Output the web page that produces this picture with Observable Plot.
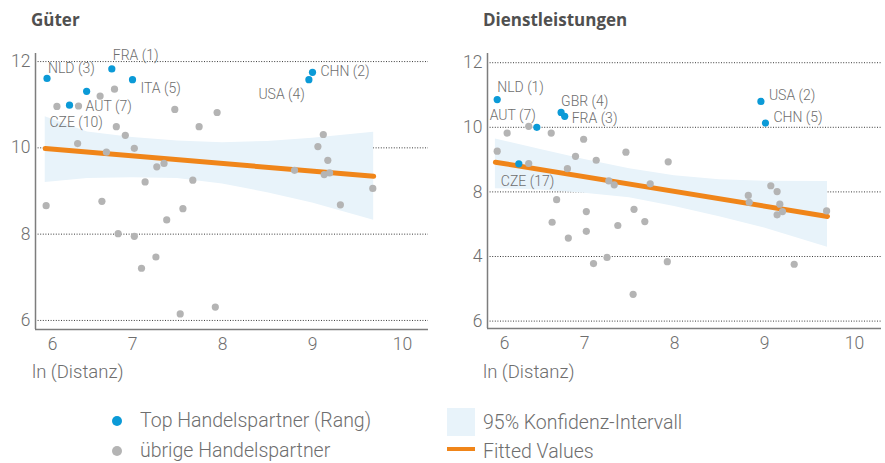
<!DOCTYPE html>
<html><head><meta charset="utf-8">
<script src="https://cdn.jsdelivr.net/npm/d3@7"></script>
<script src="https://cdn.jsdelivr.net/npm/@observablehq/plot@0.6"></script>
<style>
body{margin:0;background:#fff;}
#wrap{position:relative;width:885px;height:463px;overflow:hidden;font-family:Roboto,"Liberation Sans",sans-serif;font-weight:300;color:#6e6e6e;}
.abs{position:absolute;white-space:nowrap;}
.title{font-family:"Open Sans","Liberation Sans",Arial,sans-serif;font-weight:bold;font-size:17px;color:#505050;line-height:20px;}
.axl{font-size:18.5px;line-height:22px;}
.leg{font-size:19.5px;line-height:24px;}
svg text{font-weight:300;}
</style></head>
<body>
<div id="wrap">
  <div class="abs" id="pl" style="left:0;top:0"></div>
  <div class="abs" id="pr" style="left:440px;top:0"></div>
  <div class="abs title" style="left:31px;top:10px">Güter</div>
  <div class="abs title" style="left:483px;top:10px">Dienstleistungen</div>
  <div class="abs axl" style="left:32px;top:361px">ln (Distanz)</div>
  <div class="abs axl" style="left:483px;top:361px">ln (Distanz)</div>
  <div class="abs" style="left:112px;top:416px;width:10px;height:10px;border-radius:50%;background:#0b9ad7"></div>
  <div class="abs leg" style="left:140px;top:409px">Top Handelspartner (Rang)</div>
  <div class="abs" style="left:112px;top:446px;width:10px;height:10px;border-radius:50%;background:#b4b4b4"></div>
  <div class="abs leg" style="left:140px;top:439px">übrige Handelspartner</div>
  <div class="abs" style="left:447px;top:408px;width:28px;height:28px;background:#e8f3fa"></div>
  <div class="abs leg" style="left:483px;top:411px">95% Konfidenz-Intervall</div>
  <div class="abs" style="left:447px;top:447px;width:28px;height:4px;background:#f08519"></div>
  <div class="abs leg" style="left:483px;top:440px">Fitted Values</div>
</div>
<script>
// ---------- Data: Güter ----------
const gTopCode = ["NLD","AUT","CZE","FRA","ITA","USA","CHN"];
const gTopRank = [3,7,10,1,5,4,2];
const gTopX = [6.05,6.49,6.30,6.77,7.00,8.96,9.00];
const gTopY = [11.61,11.31,10.99,11.83,11.58,11.58,11.75];
const gOtherX = [6.16,6.40,6.64,6.80,7.47,7.94,6.82,6.92,7.74,6.39,6.71,7.02,7.27,7.35,7.14,7.67,8.80,9.12,9.06,9.17,9.13,9.19,9.67,6.04,6.66,6.84,7.02,7.10,7.26,7.38,7.56,7.53,7.92,9.31];
const gOtherY = [10.96,10.97,11.20,11.36,10.89,10.82,10.49,10.29,10.49,10.10,9.90,9.99,9.56,9.64,9.21,9.25,9.48,10.31,10.03,9.71,9.38,9.42,9.06,8.66,8.76,8.01,7.95,7.21,7.47,8.33,8.59,6.15,6.31,8.68];
const gFitX = [6.03,9.68];
const gFitY = [9.985,9.34];
const gBandX = [6.03,6.5,7.0,7.5,8.0,8.5,9.0,9.68];
const gBandHi = [10.72,10.37,10.24,10.16,10.12,10.15,10.22,10.36];
const gBandLo = [9.20,9.29,9.31,9.29,9.16,8.96,8.72,8.32];
const gYTicks = [12,10,8,6];
const gYTickLabels = ["12","10","8","6"];

// ---------- Data: Dienstleistungen ----------
const sTopCode = ["NLD","AUT","GBR","FRA","USA","CHN","CZE"];
const sTopRank = [1,7,4,3,2,5,17];
const sTopX = [6.03,6.47,6.74,6.78,8.96,9.01,6.27];
const sTopY = [10.86,10.00,10.46,10.34,10.80,10.13,8.87];
const sOtherX = [6.14,6.03,6.38,6.38,6.63,6.99,6.90,6.81,7.13,7.46,7.93,7.27,7.33,7.73,8.82,9.07,9.14,6.69,6.64,6.82,7.02,7.02,7.10,7.25,7.37,7.55,7.67,7.54,7.92,8.83,9.17,9.14,9.20,9.69,9.33];
const sOtherY = [9.82,9.26,10.03,8.88,9.82,9.63,9.10,8.72,8.98,9.23,8.93,8.34,8.22,8.25,7.89,8.19,8.01,7.76,7.06,6.57,7.39,6.78,5.78,5.97,6.96,7.46,7.08,4.83,5.84,7.68,7.62,7.29,7.39,7.41,5.76];
const sFitX = [6.01,9.70];
const sFitY = [8.92,7.24];
const sBandX = [6.01,6.5,7.0,7.5,8.0,8.5,9.0,9.70];
const sBandHi = [9.64,9.32,9.00,8.72,8.50,8.38,8.33,8.32];
const sBandLo = [8.10,8.06,7.96,7.82,7.55,7.23,6.88,6.29];
const sYTicks = [12,10,8,6,4];
const sYTickLabels = ["12","10","8","4","6"];

const xTicks = [6,7,8,9,10];

// ---------- Layout (label offsets in px) ----------
const gLabelPos = {NLD:[1,-10,"start"],AUT:[-1,15,"start"],CZE:[-20,17,"start"],FRA:[1,-13,"start"],ITA:[8,9,"start"],USA:[-4,15,"end"],CHN:[8,-1,"start"]};
const sLabelPos = {NLD:[0,-12,"start"],AUT:[-1,-12,"end"],GBR:[0,-11,"start"],FRA:[7,2,"start"],USA:[8,-6,"start"],CHN:[8,-6,"start"],CZE:[-18,18,"start"]};

const FONT = 'Roboto,"Liberation Sans",sans-serif';
const TXT = "#6e6e6e";

function makePanel(o) {
  const topPts = o.topCode.map((c,i)=>({code:c, rank:o.topRank[i], x:o.topX[i], y:o.topY[i]}));
  const otherPts = o.otherX.map((x,i)=>({x, y:o.otherY[i]}));
  const fit = o.fitX.map((x,i)=>({x, y:o.fitY[i]}));
  const band = o.bandX.map((x,i)=>({x, lo:o.bandLo[i], hi:o.bandHi[i]}));
  const labelMarks = topPts.map(d => {
    const p = o.labelPos[d.code];
    return Plot.text([d], {x:"x", y:"y", text:t=>`${t.code} (${t.rank})`, dx:p[0], dy:p[1], textAnchor:p[2], fill:TXT, fontSize:14});
  });
  return Plot.plot({
    width:o.width, height:360, marginLeft:o.ml, marginRight:o.mr, marginTop:53, marginBottom:o.mb,
    style:{fontFamily:FONT, background:"transparent", overflow:"visible"},
    x:{domain:o.xDomain},
    y:{domain:o.yDomain},
    marks:[
      Plot.gridY(o.yTicks, {stroke:"#3a3a3a", strokeOpacity:1, strokeWidth:1, strokeDasharray:"1,1.6"}),
      Plot.areaY(band, {x:"x", y1:"lo", y2:"hi", fill:"#e8f3fa"}),
      Plot.line(fit, {x:"x", y:"y", stroke:"#f08519", strokeWidth:5}),
      Plot.dot(otherPts, {x:"x", y:"y", r:3.6, fill:"#b4b4b4"}),
      Plot.dot(topPts, {x:"x", y:"y", r:3.6, fill:"#0b9ad7"}),
      ...labelMarks,
      Plot.ruleX([o.xDomain[0]], {stroke:"#7d7d7d", strokeWidth:1.5}),
      Plot.ruleY([o.yDomain[0]], {stroke:"#7d7d7d", strokeWidth:1.5}),
      Plot.axisY(o.yTicks, {tickSize:0, tickPadding:5, fontSize:17.5, color:TXT, label:null, tickFormat:d=>o.yTickLabels[o.yTicks.indexOf(d)]}),
      Plot.axisX(xTicks.slice(1), {tickSize:0, tickPadding:8, fontSize:17.5, color:TXT, label:null}),
      Plot.axisX(xTicks.slice(0,1), {tickSize:0, tickPadding:8, fontSize:17.5, color:TXT, label:null, dx:10})
    ]
  });
}

document.getElementById("pl").append(makePanel({
  topCode:gTopCode, topRank:gTopRank, topX:gTopX, topY:gTopY,
  otherX:gOtherX, otherY:gOtherY, fitX:gFitX, fitY:gFitY,
  bandX:gBandX, bandLo:gBandLo, bandHi:gBandHi,
  yTicks:gYTicks, yTickLabels:gYTickLabels, labelPos:gLabelPos,
  width:440, ml:35, mr:12, mb:31,
  xDomain:[5.922,10.289], yDomain:[5.79,12.187]
}));
document.getElementById("pr").append(makePanel({
  topCode:sTopCode, topRank:sTopRank, topX:sTopX, topY:sTopY,
  otherX:sOtherX, otherY:sOtherY, fitX:sFitX, fitY:sFitY,
  bandX:sBandX, bandLo:sBandLo, bandHi:sBandHi,
  yTicks:sYTicks, yTickLabels:sYTickLabels, labelPos:sLabelPos,
  width:445, ml:47, mr:4, mb:32,
  xDomain:[5.922,10.3], yDomain:[3.771,12.285]
}));
</script>
</body></html>
